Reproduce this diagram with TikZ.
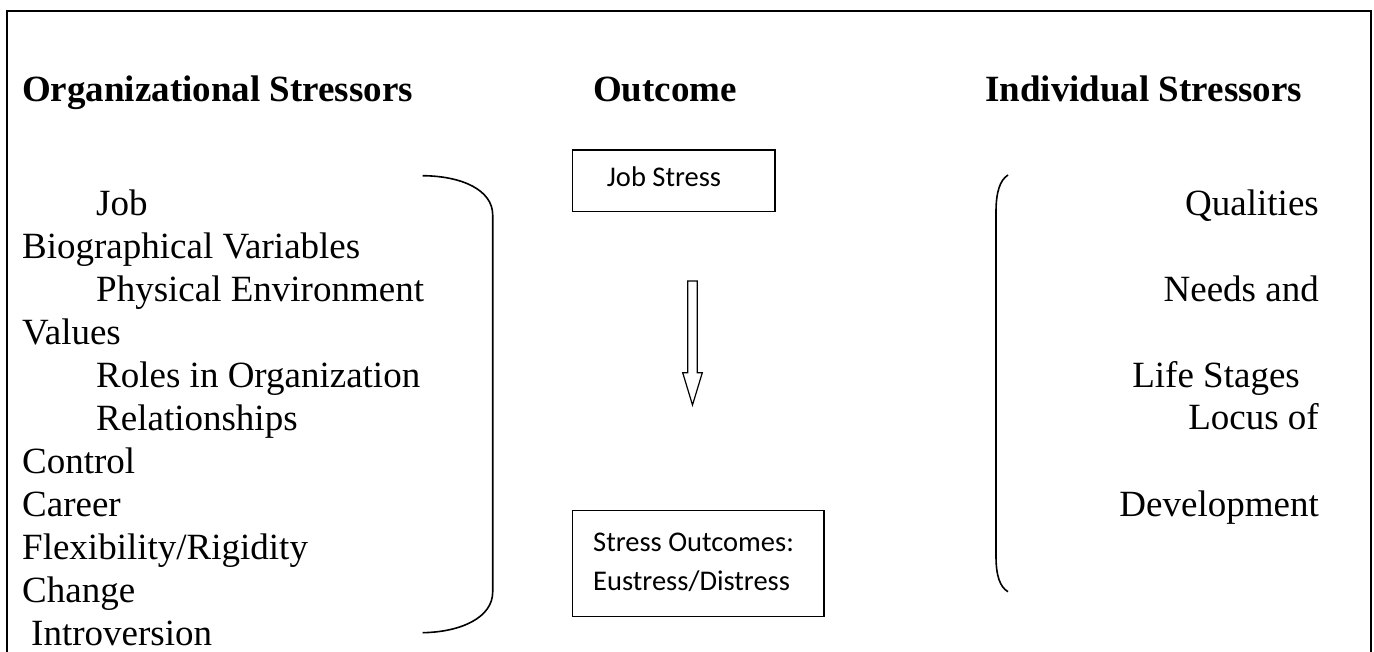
\documentclass[tikz,border=0pt]{standalone}
\usepackage{fontspec}
\setmainfont{Liberation Serif}
\newfontfamily\boxfont{Carlito}
\begin{document}
\begin{tikzpicture}[x=1pt,y=-1pt,
  txt/.style={inner sep=0pt,font=\fontsize{37}{43}\selectfont},
  lft/.style={txt,anchor=base west},
  rgt/.style={txt,anchor=base east},
  head/.style={inner sep=0pt,anchor=base west,font=\fontsize{37}{43}\selectfont\bfseries},
  btxt/.style={inner sep=0pt,anchor=base west,font=\boxfont\fontsize{28.5}{39}\selectfont},
  boxline/.style={draw=black,line width=1.5pt},
  bracket/.style={draw=black,line width=1.6pt}]
\useasboundingbox (0,0) rectangle (1374,651);
% frame
\draw[line width=1.8pt] (7,652) -- (7,11) -- (1371,11) -- (1371,652);
% headings
\node[head] (h1) at (22,101) {Organizational Stressors};
\node[head] (h2) at (593,101) {Outcome};
\node[head] (h3) at (985,101) {Individual Stressors};
% left list
\node[lft] (l1) at (96,215) {Job};
\node[lft] (l2) at (22,258) {Biographical Variables};
\node[lft] (l3) at (96,301) {Physical Environment};
\node[lft] (l4) at (22,344) {Values};
\node[lft] (l5) at (96,387) {Roles in Organization};
\node[lft] (l6) at (96,430) {Relationships};
\node[lft] (l7) at (22,473) {Control};
\node[lft] (l8) at (22,516) {Career};
\node[lft] (l9) at (22,559) {Flexibility/Rigidity};
\node[lft] (l10) at (22,602) {Change};
\node[lft] (l11) at (31,645) {Introversion};
% right list
\node[rgt] (r1) at (1319,215) {Qualities};
\node[rgt] (r2) at (1319,301) {Needs and};
\node[rgt] (r3) at (1300,387) {Life Stages};
\node[rgt] (r4) at (1319,429) {Locus of};
\node[rgt] (r5) at (1319,516) {Development};
% boxes
\draw[boxline] (572.7,150) rectangle (775,211.7);
\node[btxt] (b1) at (606.7,186.7) {Job Stress};
\draw[boxline] (572.7,510.7) rectangle (824,616.7);
\node[btxt] (b2) at (593,551.7) {Stress Outcomes:};
\node[btxt] (b3) at (593,590.7) {Eustress/Distress};
% block arrow
\draw[line width=1.2pt,line join=miter] (687.7,281) -- (697.3,281) -- (697.3,372.7) -- (702.3,372.7)
  -- (692.5,405) -- (682.7,372.7) -- (687.7,372.7) -- cycle;
% left bracket
\draw[bracket] (422.7,175.7) .. controls (462,176) and (492.7,190) .. (492.7,215)
  -- (492.7,592) .. controls (492.7,617) and (462,632) .. (422.7,632.7);
% right bracket
\draw[bracket] (1008,175) .. controls (1000,180) and (996,192) .. (996,212)
  -- (996,556) .. controls (996,576) and (1000,587) .. (1008,591.7);
\end{tikzpicture}
\end{document}
